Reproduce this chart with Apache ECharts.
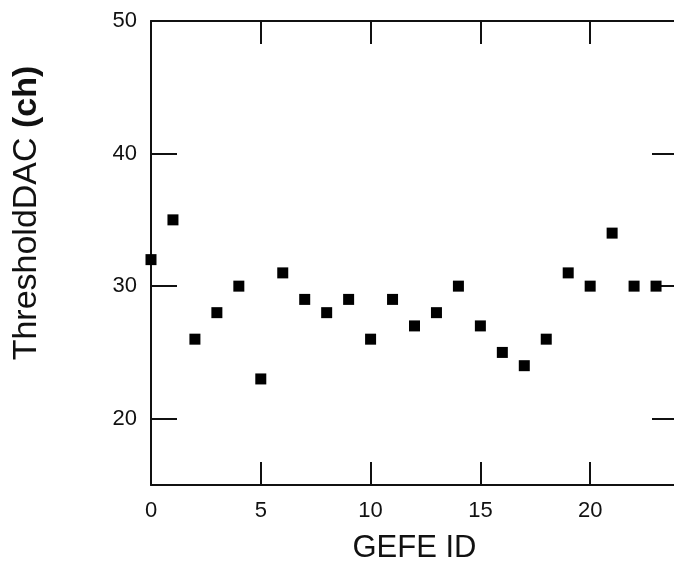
<!DOCTYPE html>
<html>
<head>
<meta charset="utf-8">
<script src="https://cdn.jsdelivr.net/npm/echarts@6/dist/echarts.min.js"></script>
<style>
  html, body { margin: 0; padding: 0; background: #fff; }
  #chart { width: 674px; height: 564px; }
</style>
</head>
<body>
<div id="chart"></div>
<script>
// GEFE id vs threshold DAC
var gefeIds = [0, 1, 2, 3, 4, 5, 6, 7, 8, 9, 10, 11, 12, 13, 14, 15, 16, 17, 18, 19, 20, 21, 22, 23];
var thresholds = [32, 35, 26, 28, 30, 23, 31, 29, 28, 29, 26, 29, 27, 28, 30, 27, 25, 24, 26, 31, 30, 34, 30, 30];
var xTicks = [0, 5, 10, 15, 20];
var yTicks = [20, 30, 40, 50];

var points = [];
for (var i = 0; i < gefeIds.length; i++) {
  points.push([gefeIds[i], thresholds[i]]);
}

var font = "Liberation Sans";
var lineColor = "#111";
var textColor = "#111";

var chart = echarts.init(document.getElementById("chart"));

function axisX(pos, showLabel) {
  return {
    type: "value",
    position: pos,
    min: 0,
    max: 24,
    name: showLabel ? "GEFE ID" : "",
    nameLocation: "middle",
    nameGap: 48,
    nameTextStyle: { fontFamily: font, fontSize: 31, color: textColor },
    axisLine: { show: true, onZero: false, lineStyle: { color: lineColor, width: 2 } },
    axisTick: { show: true, inside: true, length: 23, customValues: xTicks, lineStyle: { color: lineColor, width: 2 } },
    axisLabel: { show: showLabel, customValues: xTicks, margin: 15, fontFamily: font, fontSize: 22, color: textColor },
    splitLine: { show: false }
  };
}

function axisY(pos, showLabel) {
  return {
    type: "value",
    position: pos,
    min: 15,
    max: 50,
    axisLine: { show: true, onZero: false, lineStyle: { color: lineColor, width: 2 } },
    axisTick: { show: true, inside: true, length: 26, customValues: yTicks, lineStyle: { color: lineColor, width: 2 } },
    axisLabel: { show: showLabel, customValues: yTicks, margin: 14, fontFamily: font, fontSize: 22, color: textColor },
    splitLine: { show: false }
  };
}

var option = {
  backgroundColor: "#fff",
  animation: false,
  // plot box runs a few px past the right edge, like the original
  grid: { left: 151, top: 21, width: 527, height: 464, outerBoundsMode: "none", containLabel: false },
  xAxis: [axisX("bottom", true), axisX("top", false)],
  yAxis: [axisY("left", true), axisY("right", false)],
  graphic: [
    {
      type: "text",
      x: 27,
      y: 213,
      rotation: Math.PI / 2,
      style: {
        text: "ThresholdDAC {b|(ch)}",
        fontFamily: font,
        fontSize: 34,
        fill: textColor,
        align: "center",
        verticalAlign: "middle",
        rich: {
          b: { fontFamily: font, fontSize: 34, fontWeight: "bold", fill: textColor }
        }
      }
    }
  ],
  series: [
    {
      type: "scatter",
      data: points,
      symbol: "rect",
      symbolSize: 11,
      clip: false,
      itemStyle: { color: "#000", opacity: 1 }
    }
  ]
};

chart.setOption(option);
</script>
</body>
</html>
